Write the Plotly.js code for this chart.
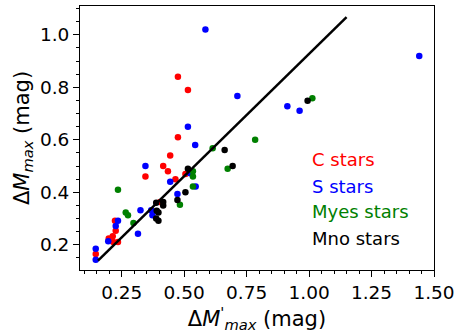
<!DOCTYPE html>
<html>
<head>
<meta charset="utf-8">
<script src="https://cdn.plot.ly/plotly-3.0.1.min.js"></script>
<style>html,body{margin:0;padding:0;background:#fff;}#chart{width:455px;height:333px;}</style>
</head>
<body>
<div id="chart"></div>
<script>
// C stars (red)
const cX = [0.475,0.515,0.475,0.444,0.416,0.435,0.505,0.345,0.465,0.404,0.223,0.226,0.214,0.198,0.216,0.235,0.146];
const cY = [0.84,0.79,0.61,0.54,0.50,0.48,0.47,0.46,0.45,0.363,0.292,0.254,0.233,0.224,0.211,0.211,0.165];
// S stars (blue)
const sX = [0.585,0.713,1.441,0.913,0.962,0.515,0.544,0.345,0.524,0.444,0.546,0.473,0.325,0.368,0.373,0.235,0.226,0.315,0.196,0.146,0.146];
const sY = [1.02,0.767,0.919,0.728,0.711,0.65,0.58,0.50,0.473,0.44,0.422,0.394,0.332,0.332,0.313,0.292,0.272,0.242,0.214,0.185,0.143];
// Myes stars (green)
const mX = [0.784,0.614,1.013,0.674,0.535,0.535,0.535,0.235,0.483,0.266,0.275,0.297];
const mY = [0.60,0.568,0.758,0.49,0.48,0.46,0.422,0.41,0.353,0.323,0.313,0.283];
// Mno stars (black)
const nX = [0.662,0.994,0.694,0.515,0.505,0.473,0.388,0.416,0.416,0.39,0.397,0.388,0.397];
const nY = [0.561,0.749,0.50,0.49,0.40,0.371,0.36,0.363,0.35,0.33,0.323,0.30,0.292];
// fit line endpoints
const lineX = [0.155, 1.15];
const lineY = [0.14, 1.068];
const legendLabels = ["C stars","S stars","Myes stars","Mno stars"];
const colors = ["#ff0000","#0000ff","#008000","#000000"];

const mk = (x,y,c) => ({x:x,y:y,type:'scatter',mode:'markers',marker:{color:c,size:6.5},showlegend:false,hoverinfo:'skip'});
const data = [
  mk(cX,cY,colors[0]), mk(sX,sY,colors[1]), mk(mX,mY,colors[2]), mk(nX,nY,colors[3]),
  {x:lineX,y:lineY,type:'scatter',mode:'lines',line:{color:'#000',width:2.5},showlegend:false,hoverinfo:'skip'}
];
const font = {family:'DejaVu Sans, sans-serif', size:18.5, color:'#000'};
const legY = [0.417,0.318,0.220,0.121];
const annotations = legendLabels.map((t,i)=>({text:t,xref:'paper',yref:'paper',x:0.65,y:legY[i],xanchor:'left',yanchor:'middle',showarrow:false,font:{family:'DejaVu Sans, sans-serif',size:18,color:colors[i]}}));
const axisCommon = {showgrid:false,zeroline:false,showline:true,linecolor:'#000',linewidth:1,mirror:true,ticks:'outside',ticklen:6,tickwidth:1,tickcolor:'#000',tickfont:font};
const titleFont = {family:'DejaVu Sans, sans-serif',size:21,color:'#000'};
const layout = {
  width:455,height:333,
  margin:{l:80,r:21,t:6,b:63},
  paper_bgcolor:'#fff',plot_bgcolor:'#fff',
  font:font,
  xaxis:Object.assign({},axisCommon,{range:[0.083,1.5],tickvals:[0.25,0.5,0.75,1.0,1.25,1.5],ticktext:['0.25','0.50','0.75','1.00','1.25','1.50'],
    minor:{dtick:0.05,tick0:0,ticks:'outside',ticklen:3,tickcolor:'#000'},
    title:{text:'Δ<i>M</i><sup>\'</sup><sub><i>max</i></sub> (mag)',font:titleFont,standoff:2}}),
  yaxis:Object.assign({},axisCommon,{range:[0.104,1.11],tickvals:[0.2,0.4,0.6,0.8,1.0],ticktext:['0.2','0.4','0.6','0.8','1.0'],
    minor:{dtick:0.05,tick0:0,ticks:'outside',ticklen:3,tickcolor:'#000'},
    title:{text:'Δ<i>M</i><sub><i>max</i></sub> (mag)',font:titleFont,standoff:4}}),
  annotations:annotations
};
Plotly.newPlot('chart',data,layout,{staticPlot:true,displayModeBar:false});
</script>
</body>
</html>
